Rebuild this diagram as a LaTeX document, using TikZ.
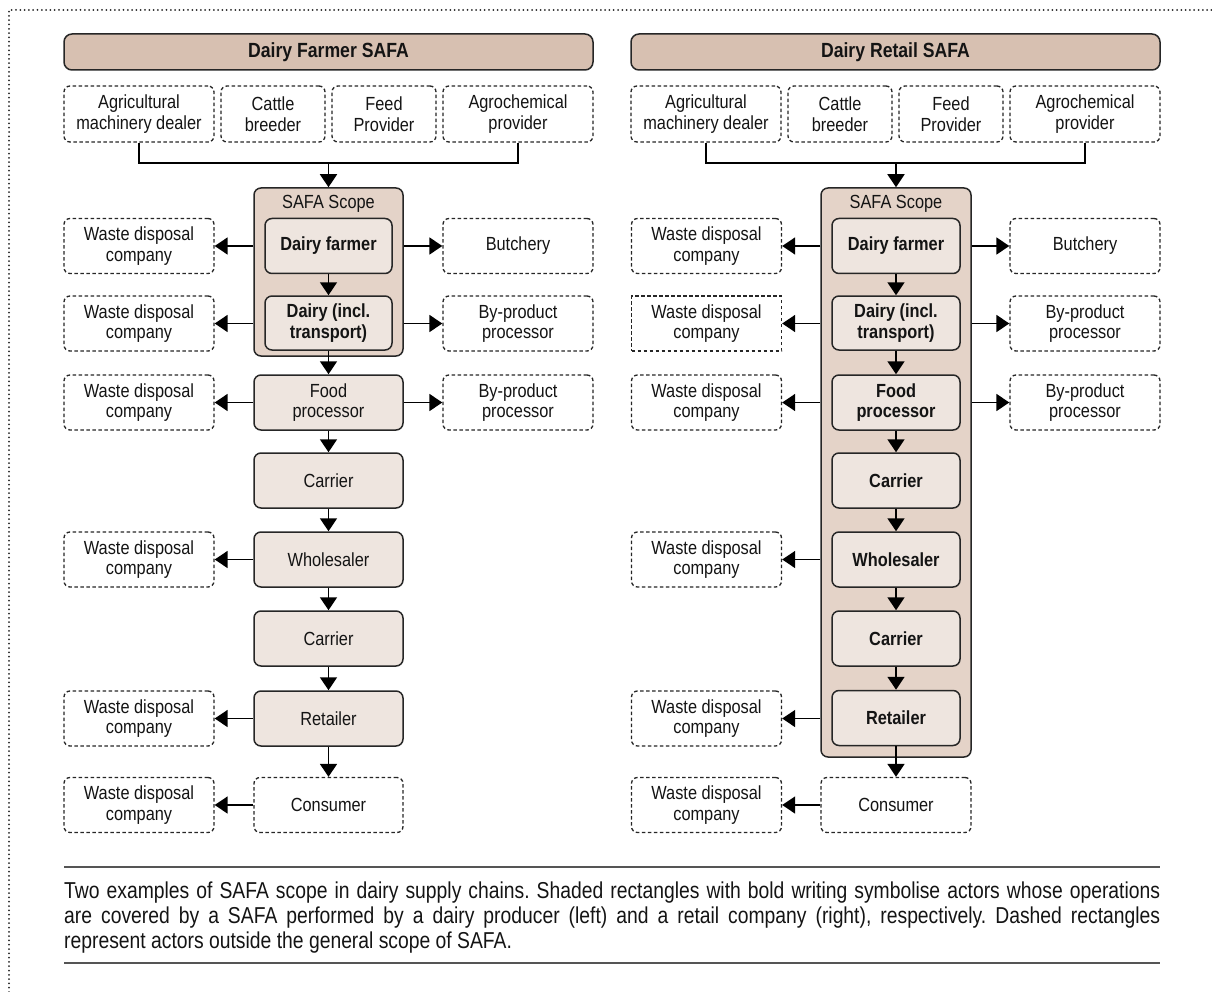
\documentclass[tikz,border=0pt]{standalone}
\usepackage{fontspec}
\setmainfont{Liberation Sans}[FakeStretch=0.86]
\newfontfamily\capfont{Liberation Sans}[FakeStretch=0.84]
\usetikzlibrary{arrows.meta}

\definecolor{edge}{HTML}{262626}
\definecolor{headfill}{HTML}{D7C0B1}
\definecolor{scopefill}{HTML}{E4D3C8}
\definecolor{actfill}{HTML}{EEE5DF}
\definecolor{rulegray}{HTML}{555555}

\begin{document}
\frenchspacing
\begin{tikzpicture}[x=1pt,y=-1pt,
  every node/.style={font=\fontsize{19}{20.5}\selectfont, align=center, inner sep=0pt, text=black!92},
  header/.style={draw=edge, line width=1.5pt, fill=headfill, rounded corners=8pt,
    minimum height=36pt, minimum width=529pt, font=\fontsize{20.5}{22}\selectfont\bfseries},
  outbox/.style={draw=edge, line width=1.3pt, dash pattern=on 3.5pt off 2.5pt, fill=white,
    rounded corners=6pt, minimum height=55pt, minimum width=150pt},
  supbox/.style={outbox, minimum height=56pt},
  sharpbox/.style={outbox, sharp corners},
  scopebox/.style={draw=edge, line width=1.5pt, fill=scopefill, rounded corners=7pt},
  actor/.style={draw=edge, line width=1.5pt, fill=actfill, rounded corners=7pt,
    minimum height=55pt, minimum width=149pt},
  inscope/.style={actor, minimum width=127pt, font=\fontsize{19}{20.5}\selectfont\bfseries},
  flow/.style={draw=black, line width=1.6pt, -{Triangle[length=13pt,width=17pt]}},
  link/.style={draw=black, line width=1.6pt},
  rule/.style={draw=rulegray, line width=1.6pt},
  frame/.style={draw=edge, line width=2pt, line cap=round, dash pattern=on 0pt off 4.3pt},
  captext/.style={anchor=base west, font=\capfont\fontsize{23}{25}\selectfont, align=left},
]
\useasboundingbox (0,0) rectangle (1212,992);

% dotted page frame (top and left edges)
\coordinate (fbl) at (9,992);
\coordinate (ftl) at (9,10);
\coordinate (ftr) at (1212,10);
\draw[frame] (fbl) -- (ftl) -- (ftr);

% ===================== Dairy Farmer SAFA =====================
\node[header] (Lhead) at (328.5,52) {Dairy Farmer SAFA};

\node[supbox] (Lsup1) at (139,114) {Agricultural\\machinery dealer};
\node[supbox, minimum width=104pt] (Lsup2) at (273,114) {Cattle\\breeder};
\node[supbox, minimum width=104pt] (Lsup3) at (384,114) {Feed\\Provider};
\node[supbox] (Lsup4) at (518,114) {Agrochemical\\provider};

\node[scopebox, minimum width=149pt, minimum height=168pt] (Lscope) at (328.5,272) {};
\node (Lscopelbl) at (328.5,204) {SAFA Scope};
\node[inscope] (Lfarm) at (328.5,246) {Dairy farmer};
\node[inscope, minimum height=54pt] (Ldairy) at (328.5,323) {Dairy (incl.\\transport)};

\node[actor] (Lfood) at (328.5,402.5) {Food\\processor};
\node[actor] (Lcar1) at (328.5,480.5) {Carrier};
\node[actor] (Lwhole) at (328.5,559.5) {Wholesaler};
\node[actor] (Lcar2) at (328.5,638.5) {Carrier};
\node[actor] (Lret) at (328.5,718.5) {Retailer};
\node[outbox, minimum width=149pt] (Lcons) at (328.5,805) {Consumer};

\node[outbox] (Lw1) at (139,246) {Waste disposal\\company};
\node[outbox] (Lw2) at (139,323.5) {Waste disposal\\company};
\node[outbox] (Lw3) at (139,402.5) {Waste disposal\\company};
\node[outbox] (Lw5) at (139,559.5) {Waste disposal\\company};
\node[outbox] (Lw7) at (139,718.5) {Waste disposal\\company};
\node[outbox] (Lw8) at (139,805) {Waste disposal\\company};

\node[outbox] (Lb1) at (518,246) {Butchery};
\node[outbox] (Lb2) at (518,323.5) {By-product\\processor};
\node[outbox] (Lb3) at (518,402.5) {By-product\\processor};

\coordinate (Ljoin) at (328.5,163);
\draw[link] (Lsup1.south) |- (Ljoin) -| (Lsup4.south);
\draw[flow] (Ljoin) -- (Lscope.north);

\draw[flow] (Lfarm) -- (Ldairy);
\draw[flow] (Ldairy) -- (Lfood);
\draw[flow] (Lfood) -- (Lcar1);
\draw[flow] (Lcar1) -- (Lwhole);
\draw[flow] (Lwhole) -- (Lcar2);
\draw[flow] (Lcar2) -- (Lret);
\draw[flow] (Lret) -- (Lcons);

\draw[flow] (Lscope.west |- Lw1) -- (Lw1.east);
\draw[flow] (Lscope.west |- Lw2) -- (Lw2.east);
\draw[flow] (Lfood) -- (Lw3);
\draw[flow] (Lwhole) -- (Lw5);
\draw[flow] (Lret) -- (Lw7);
\draw[flow] (Lcons) -- (Lw8);

\draw[flow] (Lscope.east |- Lb1) -- (Lb1.west);
\draw[flow] (Lscope.east |- Lb2) -- (Lb2.west);
\draw[flow] (Lfood) -- (Lb3);

% ===================== Dairy Retail SAFA =====================
\node[header] (Rhead) at (895.5,52) {Dairy Retail SAFA};

\node[supbox] (Rsup1) at (706,114) {Agricultural\\machinery dealer};
\node[supbox, minimum width=104pt] (Rsup2) at (840,114) {Cattle\\breeder};
\node[supbox, minimum width=104pt] (Rsup3) at (951,114) {Feed\\Provider};
\node[supbox] (Rsup4) at (1085,114) {Agrochemical\\provider};

\node[scopebox, minimum width=150pt, minimum height=569pt] (Rscope) at (896,472.5) {};
\node (Rscopelbl) at (896,204) {SAFA Scope};
\node[inscope, minimum width=128pt] (Rfarm) at (896,246) {Dairy farmer};
\node[inscope, minimum width=128pt, minimum height=54pt] (Rdairy) at (896,323) {Dairy (incl.\\transport)};
\node[inscope, minimum width=128pt] (Rfood) at (896,402.5) {Food\\processor};
\node[inscope, minimum width=128pt] (Rcar1) at (896,480.5) {Carrier};
\node[inscope, minimum width=128pt] (Rwhole) at (896,559.5) {Wholesaler};
\node[inscope, minimum width=128pt] (Rcar2) at (896,638.5) {Carrier};
\node[inscope, minimum width=128pt] (Rret) at (896,718) {Retailer};
\node[outbox] (Rcons) at (896,805) {Consumer};

\node[outbox] (Rw1) at (706.5,246) {Waste disposal\\company};
\node[sharpbox] (Rw2) at (706.5,323.5) {Waste disposal\\company};
\node[outbox] (Rw3) at (706.5,402.5) {Waste disposal\\company};
\node[outbox] (Rw5) at (706.5,559.5) {Waste disposal\\company};
\node[outbox] (Rw7) at (706.5,718.5) {Waste disposal\\company};
\node[outbox] (Rw8) at (706.5,805) {Waste disposal\\company};

\node[outbox] (Rb1) at (1085,246) {Butchery};
\node[outbox] (Rb2) at (1085,323.5) {By-product\\processor};
\node[outbox] (Rb3) at (1085,402.5) {By-product\\processor};

\coordinate (Rjoin) at (896,163);
\draw[link] (Rsup1.south) |- (Rjoin) -| (Rsup4.south);
\draw[flow] (Rjoin) -- (Rscope.north);

\draw[flow] (Rfarm) -- (Rdairy);
\draw[flow] (Rdairy) -- (Rfood);
\draw[flow] (Rfood) -- (Rcar1);
\draw[flow] (Rcar1) -- (Rwhole);
\draw[flow] (Rwhole) -- (Rcar2);
\draw[flow] (Rcar2) -- (Rret);
\draw[flow] (Rret) -- (Rcons);

\draw[flow] (Rscope.west |- Rw1) -- (Rw1.east);
\draw[flow] (Rscope.west |- Rw2) -- (Rw2.east);
\draw[flow] (Rscope.west |- Rw3) -- (Rw3.east);
\draw[flow] (Rscope.west |- Rw5) -- (Rw5.east);
\draw[flow] (Rscope.west |- Rw7) -- (Rw7.east);
\draw[flow] (Rcons) -- (Rw8);

\draw[flow] (Rscope.east |- Rb1) -- (Rb1.west);
\draw[flow] (Rscope.east |- Rb2) -- (Rb2.west);
\draw[flow] (Rscope.east |- Rb3) -- (Rb3.west);

% ===================== caption =====================
\coordinate (ruleAl) at (64,867);
\coordinate (ruleAr) at (1160,867);
\coordinate (ruleBl) at (64,963);
\coordinate (ruleBr) at (1160,963);
\draw[rule] (ruleAl) -- (ruleAr);
\draw[rule] (ruleBl) -- (ruleBr);

\node[captext] (cap1) at (64,898) {\makebox[1096pt][s]{Two examples of SAFA scope in dairy supply chains. Shaded rectangles with bold writing symbolise actors whose operations}};
\node[captext] (cap2) at (64,923) {\makebox[1096pt][s]{are covered by a SAFA performed by a dairy producer (left) and a retail company (right), respectively. Dashed rectangles}};
\node[captext] (cap3) at (64,948) {represent actors outside the general scope of SAFA.};
\end{tikzpicture}
\end{document}
